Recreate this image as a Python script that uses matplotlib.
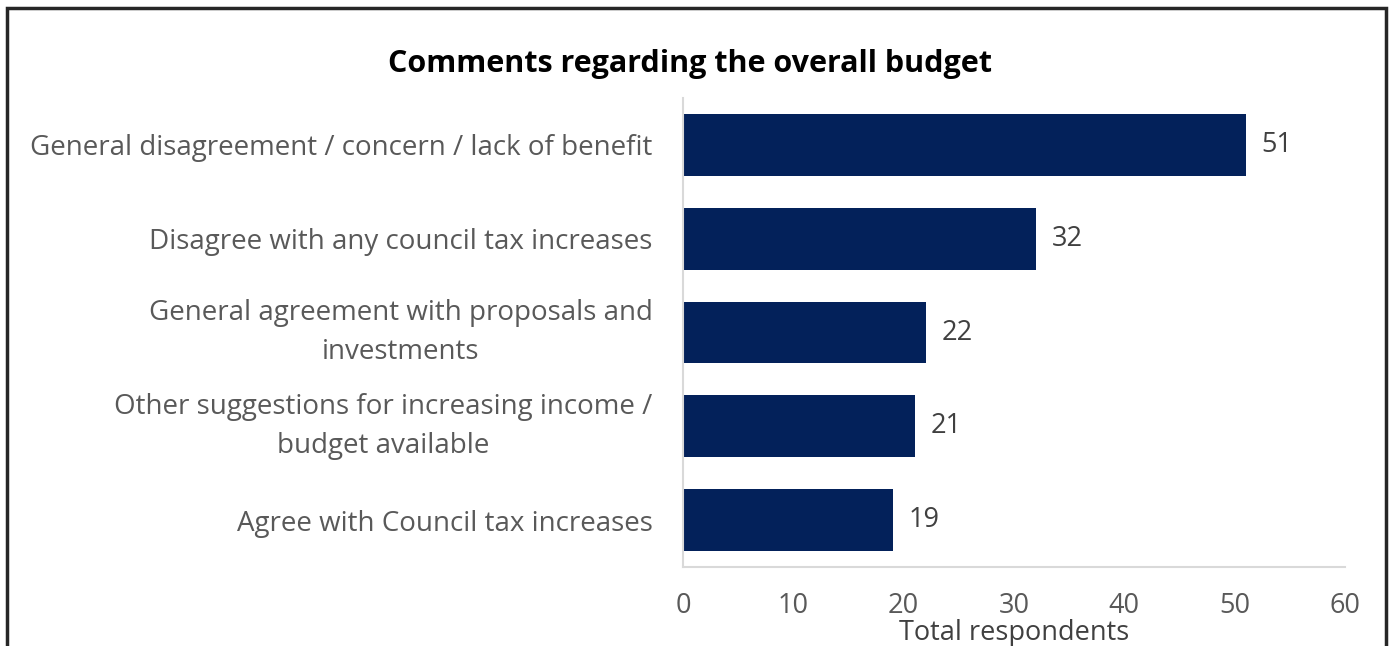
import matplotlib.pyplot as plt
from matplotlib.patches import Rectangle

categories = [
    "General disagreement / concern / lack of benefit",
    "Disagree with any council tax increases",
    "General agreement with proposals and\ninvestments",
    "Other suggestions for increasing income /\nbudget available",
    "Agree with Council tax increases",
]
counts = [51, 32, 22, 21, 19]
xticks = [0, 10, 20, 30, 40, 50, 60]

plt.rcParams['font.family'] = ['Open Sans', 'DejaVu Sans']

fig = plt.figure(figsize=(13.94, 6.46), dpi=100)
ax = fig.add_axes([683 / 1394, 1 - 567 / 646, 662 / 1394, 469 / 646])

ypos = list(range(len(categories)))
ax.barh(ypos, counts, height=0.66, color='#03215a')
for y, v in zip(ypos, counts):
    ax.text(v + 1.4, y, str(v), va='center', ha='left', fontsize=19.5, color='#404040')

ax.set_xlim(0, 60)
ax.set_ylim(4.5, -0.5)
ax.set_xticks(xticks)
ax.set_yticks(ypos)
ax.set_yticklabels(categories, fontsize=20, color='#595959', linespacing=1.5)
ax.tick_params(axis='x', labelsize=19.5, labelcolor='#595959', length=0, pad=18)
ax.tick_params(axis='y', length=0, pad=22)
for lbl in ax.get_yticklabels():
    lbl.set_horizontalalignment('right')
    lbl.set_multialignment('center')
    if '\n' in lbl.get_text():
        lbl.set_verticalalignment('center')

for side in ['top', 'right']:
    ax.spines[side].set_visible(False)
for side in ['left', 'bottom']:
    ax.spines[side].set_color('#d9d9d9')
    ax.spines[side].set_linewidth(1.5)

ax.set_xlabel('Total respondents', fontsize=19.5, color='#404040', labelpad=-1)

fig.text(690 / 1394, 1 - 64 / 646, 'Comments regarding the overall budget',
         ha='center', va='center', fontsize=22, fontweight='bold', color='black')

# outer frame of the chart area
fig.patches.append(Rectangle((7 / 1394, -0.1), 1379 / 1394, 1.1 - 8 / 646,
                             transform=fig.transFigure, fill=False,
                             edgecolor='#262626', linewidth=2.5))

fig.savefig('out.png', dpi=100)
